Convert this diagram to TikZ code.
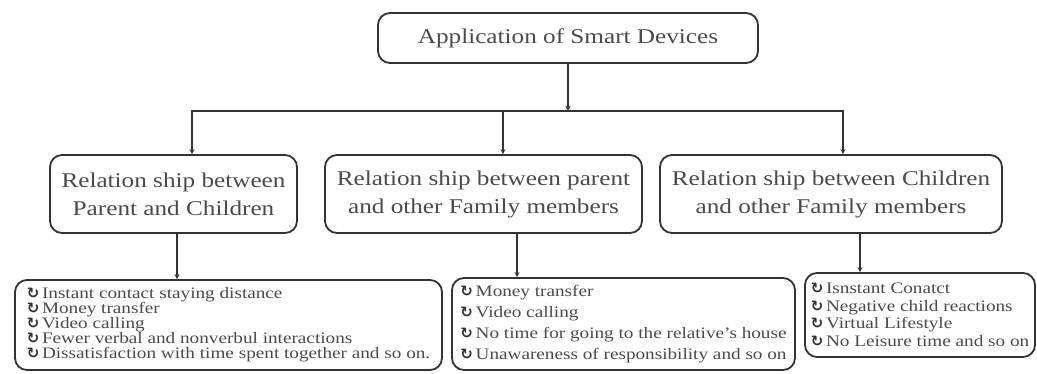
\documentclass[tikz,border=0pt]{standalone}
\usepackage{fontspec}
\setmainfont[FakeStretch=1.2]{Liberation Serif}
\newfontfamily\symfont{DejaVu Sans}
\usetikzlibrary{arrows.meta}
\definecolor{linec}{HTML}{333333}
\definecolor{txtc}{HTML}{4A4A4A}
\tikzset{
  box/.style={draw=linec, line width=1.8pt, rounded corners=12pt, text=txtc, inner sep=0pt},
  headbox/.style={box, minimum height=78pt, align=center, font=\fontsize{21}{28}\selectfont},
  listbox/.style={box, align=left},
  conn/.style={draw=linec, line width=2.2pt, line cap=rect},
  arr/.style={conn, -{Stealth[length=5pt,width=5pt]}},
}
\newcommand{\bul}{{\symfont\bfseries\fontsize{15}{15}\selectfont\textcolor{linec}{↻}}\,}
\begin{document}
\begin{tikzpicture}[x=1pt,y=-1pt]
\useasboundingbox (0,0) rectangle (1037,373);
% top
\node[box, minimum width=380pt, minimum height=50pt, font=\fontsize{21}{24}\selectfont] (top) at (568,38) {Application of Smart Devices};
% level 2
\node[headbox, minimum width=247pt] (r1) at (173.5,194) {Relation ship between\\Parent and Children};
\node[headbox, minimum width=317pt] (r2) at (483.5,194) {Relation ship between parent\\and other Family members};
\node[headbox, minimum width=342pt] (r3) at (831,194) {Relation ship between Children\\and other Family members};
% level 3
\node[listbox, minimum width=427pt, minimum height=90pt, font=\fontsize{16}{15}\selectfont] (b1) at (228.5,325) {\bul Instant contact staying distance\\\bul Money transfer\\\bul Video calling\\\bul Fewer verbal and nonverbul interactions\\\bul Dissatisfaction with time spent together and so on.};
\node[listbox, minimum width=343pt, minimum height=92pt, font=\fontsize{16}{21}\selectfont] (b2) at (623.5,324) {\bul Money transfer\\\bul Video calling\\\bul No time for going to the relative's house\\\bul Unawareness of responsibility and so on};
\node[listbox, minimum width=230pt, minimum height=84pt, font=\fontsize{16}{17.5}\selectfont] (b3) at (920,315) {\bul Isnstant Conatct\\\bul Negative child reactions\\\bul Virtual Lifestyle\\\bul No Leisure time and so on};
% connectors
\coordinate (hy) at (0,111);
\coordinate (j1) at (192,111);
\coordinate (j2) at (503,111);
\coordinate (j3) at (843,111);
\draw[arr] (top.south) -- (top.south |- hy);
\draw[conn] (j1) -- (j3);
\draw[arr] (j1) -- (j1 |- r1.north);
\draw[arr] (j2) -- (j2 |- r2.north);
\draw[arr] (j3) -- (j3 |- r3.north);
\coordinate (k1) at (177,0);
\coordinate (k2) at (517,0);
\coordinate (k3) at (860,0);
\draw[arr] (k1 |- r1.south) -- (k1 |- b1.north);
\draw[arr] (k2 |- r2.south) -- (k2 |- b2.north);
\draw[arr] (k3 |- r3.south) -- (k3 |- b3.north);
\end{tikzpicture}
\end{document}
